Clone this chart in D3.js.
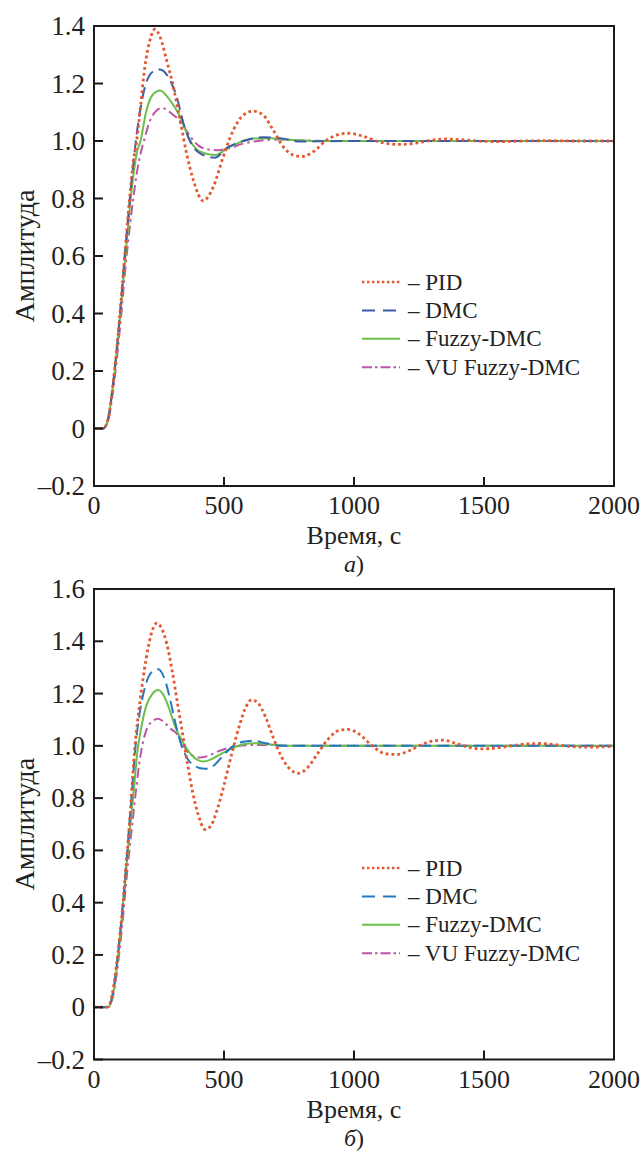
<!DOCTYPE html>
<html>
<head>
<meta charset="utf-8">
<script src="https://cdn.jsdelivr.net/npm/d3@7"></script>
<style>
  body { margin: 0; background: #fff; }
  svg { display: block; font-family: "Liberation Serif", "DejaVu Serif", serif; }
</style>
</head>
<body>
<div id="chart"></div>
<script>
// step responses, two panels (a, б)
const seriesNames = ['PID', 'DMC', 'Fuzzy-DMC', 'VU Fuzzy-DMC'];
const xTicks = [0, 500, 1000, 1500, 2000];
const yTicksA = [-0.2, 0, 0.2, 0.4, 0.6, 0.8, 1.0, 1.2, 1.4];
const yTicksB = [-0.2, 0, 0.2, 0.4, 0.6, 0.8, 1.0, 1.2, 1.4, 1.6];

// panel a
const pidA = [[0,0],[35,0],[50,0.02],[60,0.06],[70,0.13],[80,0.21],[90,0.3],[100,0.4],[110,0.51],[120,0.62],[130,0.73],[140,0.83],[150,0.92],[164,1.0],[180,1.13],[196,1.26],[215,1.35],[234,1.389],[255,1.36],[279,1.282],[305,1.189],[331,1.073],[356,0.957],[382,0.864],[420,0.792],[459,0.841],[497,0.945],[536,1.038],[574,1.09],[612,1.104],[651,1.09],[689,1.038],[728,0.98],[767,0.951],[799,0.946],[844,0.963],[895,1.003],[940,1.022],[978,1.027],[1030,1.018],[1100,0.996],[1170,0.988],[1240,0.993],[1300,1.003],[1356,1.007],[1420,1.004],[1490,0.999],[1562,0.998],[1650,1.0],[1741,1.001],[1850,1.0],[2000,1.0]];
const dmcA = [[0,0],[35,0],[50,0.02],[60,0.06],[70,0.13],[80,0.21],[90,0.3],[100,0.4],[110,0.51],[120,0.62],[130,0.72],[140,0.82],[150,0.91],[165,1.03],[180,1.12],[200,1.2],[225,1.24],[254,1.249],[292,1.212],[318,1.154],[344,1.062],[369,1.0],[408,0.957],[465,0.942],[510,0.975],[587,1.003],[651,1.013],[715,1.01],[792,0.998],[880,0.999],[1000,1.0],[2000,1.0]];
const fuzzyA = [[0,0],[35,0],[50,0.02],[60,0.06],[70,0.13],[80,0.2],[90,0.29],[100,0.39],[110,0.49],[120,0.59],[130,0.69],[140,0.79],[150,0.87],[165,0.96],[179,1.0],[200,1.1],[225,1.16],[254,1.176],[292,1.142],[331,1.085],[369,1.003],[408,0.963],[465,0.951],[523,0.98],[612,1.009],[680,1.01],[750,1.004],[850,1.0],[2000,1.0]];
const vuA = [[0,0],[35,0],[50,0.015],[60,0.05],[70,0.11],[80,0.18],[90,0.26],[100,0.35],[110,0.45],[120,0.55],[130,0.64],[140,0.72],[151,0.8],[165,0.89],[180,0.96],[192,1.0],[215,1.07],[240,1.105],[262,1.115],[285,1.105],[305,1.09],[324,1.077],[350,1.044],[375,1.01],[408,0.98],[453,0.969],[480,0.968],[520,0.975],[570,0.99],[630,1.0],[700,1.005],[800,1.002],[900,1.0],[2000,1.0]];

// panel б
const pidB = [[0,0],[50,0],[60,0.01],[70,0.05],[80,0.11],[90,0.19],[100,0.28],[110,0.38],[120,0.5],[130,0.62],[140,0.75],[150,0.9],[156,0.98],[177,1.17],[200,1.33],[218,1.42],[241,1.469],[260,1.45],[280,1.39],[300,1.29],[320,1.17],[340,1.05],[360,0.93],[380,0.82],[400,0.74],[427,0.68],[450,0.695],[475,0.76],[500,0.85],[530,0.97],[560,1.08],[585,1.15],[606,1.176],[630,1.165],[660,1.11],[690,1.03],[720,0.96],[750,0.915],[786,0.895],[820,0.915],[860,0.97],[900,1.025],[940,1.058],[978,1.063],[1020,1.045],[1070,1.0],[1120,0.97],[1164,0.967],[1210,0.98],[1260,1.005],[1300,1.018],[1343,1.022],[1390,1.01],[1440,0.995],[1490,0.988],[1530,0.99],[1580,0.996],[1640,1.005],[1715,1.009],[1780,1.004],[1840,0.997],[1895,0.995],[1950,0.996],[2000,0.998]];
const dmcB = [[0,0],[55,0],[65,0.02],[75,0.07],[85,0.14],[95,0.23],[105,0.33],[115,0.44],[125,0.56],[135,0.69],[145,0.81],[158,0.98],[175,1.12],[195,1.22],[220,1.28],[247,1.293],[270,1.26],[290,1.19],[310,1.1],[337,1.0],[360,0.95],[385,0.925],[405,0.915],[427,0.912],[455,0.92],[490,0.955],[530,0.995],[570,1.015],[612,1.02],[660,1.01],[720,1.0],[2000,1.0]];
const fuzzyB = [[0,0],[55,0],[65,0.02],[75,0.06],[85,0.13],[95,0.22],[105,0.32],[115,0.43],[125,0.54],[135,0.65],[145,0.75],[155,0.85],[166,0.97],[180,1.06],[200,1.15],[225,1.2],[247,1.214],[270,1.19],[290,1.14],[310,1.08],[330,1.035],[350,1.0],[375,0.965],[400,0.945],[420,0.94],[450,0.948],[490,0.97],[530,0.99],[570,1.005],[620,1.01],[680,1.005],[750,1.0],[2000,1.0]];
const vuB = [[0,0],[55,0],[65,0.015],[75,0.05],[85,0.11],[95,0.19],[105,0.28],[115,0.38],[125,0.49],[135,0.59],[145,0.68],[158,0.8],[170,0.9],[180,0.97],[195,1.04],[215,1.085],[247,1.104],[270,1.09],[295,1.065],[320,1.045],[345,1.0],[370,0.968],[408,0.955],[440,0.962],[480,0.98],[530,0.995],[600,1.003],[680,1.003],[760,1.0],[2000,1.0]];

const width = 641;
const height = 1152;

const svg = d3.select('#chart')
  .append('svg')
  .attr('width', width)
  .attr('height', height);

const styles = [
  { color: '#e4572e', width: 2.8, dash: '2.8,3', legendDash: '2.4,2.6' },
  { color: '#3b5ca9', width: 2, dash: '12,6', legendDash: '13,8' },
  { color: '#6abf4b', width: 2, dash: null, legendDash: null },
  { color: '#bb56a6', width: 2, dash: '10,4,2.5,4', legendDash: '10,3,2.5,3' }
];

const fmtTick = (v) => v === 0 ? '0' : (v < 0 ? '\u2013' + d3.format('.1f')(-v) : d3.format('.1f')(v));

function drawPanel(cfg) {
  const x = d3.scaleLinear().domain([0, 2000]).range([94, 614]);
  const y = d3.scaleLinear().domain(cfg.yDomain).range([cfg.bottom, cfg.top]);
  const g = svg.append('g');

  const clipId = 'clip-' + cfg.id;
  g.append('clipPath').attr('id', clipId)
    .append('rect')
    .attr('x', x(0)).attr('y', cfg.top)
    .attr('width', x(2000) - x(0)).attr('height', cfg.bottom - cfg.top);

  const line = d3.line()
    .x((d) => x(d[0]))
    .y((d) => y(d[1]))
    .curve(d3.curveMonotoneX);

  // draw VU first so PID dots stay on top
  const order = [3, 2, 1, 0];
  order.forEach((i) => {
    const s = cfg.styles[i];
    g.append('path')
      .datum(cfg.series[i])
      .attr('clip-path', `url(#${clipId})`)
      .attr('d', line)
      .attr('fill', 'none')
      .attr('stroke', s.color)
      .attr('stroke-width', s.width)
      .attr('stroke-dasharray', s.dash);
  });

  // frame
  g.append('rect')
    .attr('x', x(0)).attr('y', cfg.top)
    .attr('width', x(2000) - x(0)).attr('height', cfg.bottom - cfg.top)
    .attr('fill', 'none').attr('stroke', '#1a1a1a').attr('stroke-width', 2);

  // y ticks (inside) + labels
  cfg.yTicks.forEach((v) => {
    g.append('line')
      .attr('x1', x(0)).attr('x2', x(0) + 9)
      .attr('y1', y(v)).attr('y2', y(v))
      .attr('stroke', '#1a1a1a').attr('stroke-width', 2);
    g.append('text')
      .attr('x', x(0) - 9).attr('y', y(v))
      .attr('text-anchor', 'end').attr('dominant-baseline', 'central')
      .attr('font-size', 27).attr('fill', '#222')
      .text(fmtTick(v));
  });

  // x ticks (inside) + labels
  xTicks.forEach((t) => {
    g.append('line')
      .attr('x1', x(t)).attr('x2', x(t))
      .attr('y1', cfg.bottom).attr('y2', cfg.bottom - 9)
      .attr('stroke', '#1a1a1a').attr('stroke-width', 2);
    g.append('text')
      .attr('x', x(t)).attr('y', cfg.bottom + 28)
      .attr('text-anchor', 'middle')
      .attr('font-size', 26).attr('fill', '#222')
      .text(t);
  });

  g.append('text')
    .attr('x', (x(0) + x(2000)) / 2).attr('y', cfg.bottom + 58)
    .attr('text-anchor', 'middle')
    .attr('font-size', 26).attr('fill', '#222')
    .text('Время, с');

  const cap = g.append('text')
    .attr('x', (x(0) + x(2000)) / 2).attr('y', cfg.bottom + 86)
    .attr('text-anchor', 'middle')
    .attr('font-size', 24).attr('fill', '#222');
  cap.append('tspan').attr('font-style', 'italic').text(cfg.letter);
  cap.append('tspan').text(')');

  g.append('text')
    .attr('transform', `translate(34, ${(cfg.top + cfg.bottom) / 2}) rotate(-90)`)
    .attr('text-anchor', 'middle')
    .attr('font-size', 28).attr('fill', '#222')
    .text('Амплитуда');

  // legend
  const lg = g.append('g').attr('transform', `translate(362, ${cfg.legendY})`);
  seriesNames.forEach((name, i) => {
    const s = cfg.styles[i];
    const row = lg.append('g').attr('transform', `translate(0, ${i * 28.4})`);
    row.append('line')
      .attr('x1', 0).attr('x2', 38)
      .attr('y1', 0).attr('y2', 0)
      .attr('stroke', s.color)
      .attr('stroke-width', i === 0 ? 2.4 : 2)
      .attr('stroke-dasharray', s.legendDash);
    row.append('text')
      .attr('x', 46).attr('y', 0)
      .attr('dominant-baseline', 'central')
      .attr('font-size', 23).attr('fill', '#222')
      .text('\u2013 ' + name);
  });
}

drawPanel({
  id: 'a', top: 26, bottom: 486, yDomain: [-0.2, 1.4], yTicks: yTicksA,
  series: [pidA, dmcA, fuzzyA, vuA], styles: styles, legendY: 282, letter: 'а'
});

drawPanel({
  id: 'b', top: 589, bottom: 1059.5, yDomain: [-0.2, 1.6], yTicks: yTicksB,
  series: [pidB, dmcB, fuzzyB, vuB],
  styles: styles.map((s, i) => i === 1 ? Object.assign({}, s, { color: '#2478c0' }) : s),
  legendY: 868, letter: 'б'
});
</script>
</body>
</html>
